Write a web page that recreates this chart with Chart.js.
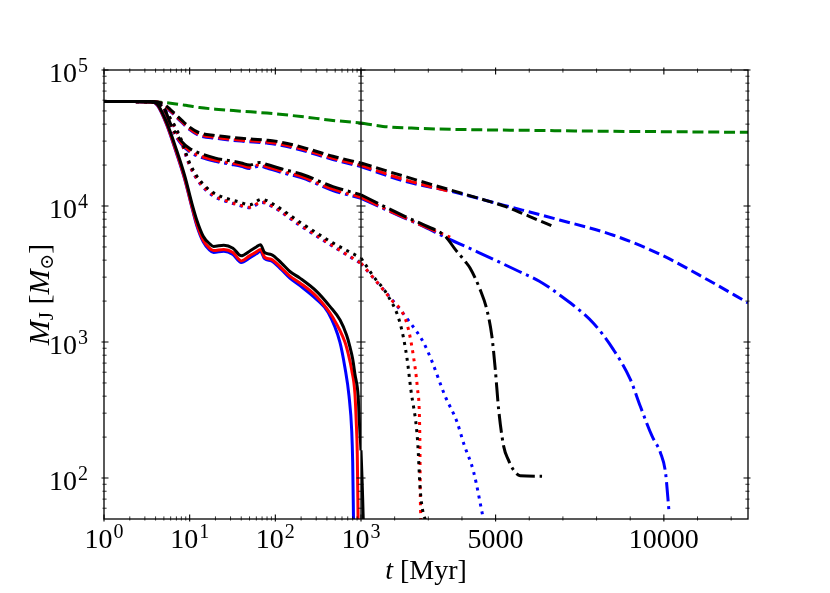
<!DOCTYPE html>
<html>
<head>
<meta charset="utf-8">
<title>M_J vs t</title>
<script src="https://cdn.jsdelivr.net/npm/chart.js@4.4.1/dist/chart.umd.min.js"></script>
<style>
  html, body { margin: 0; padding: 0; background: #fff; }
  canvas { display: block; }
</style>
</head>
<body>
<canvas id="massChart" width="830" height="593"></canvas>
<script>
// ---- data (t in Myr, M_J in solar masses) ----
const tGreen = [1, 3.5, 4.5, 6, 9, 13, 20, 40, 80, 200, 470, 1000, 1650, 2500, 4300, 6000, 8100, 10000, 12500];
const mGreen = [58700, 58700, 58000, 57000, 55000, 53000, 51500, 49800, 48200, 45500, 42600, 40800, 38500, 37400, 36400, 36000, 35500, 35200, 34800];

const tDashK = [1, 4, 5, 6, 8, 10, 13, 20, 40, 80, 100, 200, 470, 1000, 2300, 3800, 4500, 5300, 6000, 6750];
const mDashK = [58700, 58500, 56000, 51000, 43000, 38000, 34500, 33000, 31500, 30500, 30000, 27200, 23200, 20700, 16500, 12800, 11400, 9900, 8400, 7000];
const tDashR = [1, 4, 5, 6, 8, 10, 13, 20, 40, 80, 100, 200, 470, 1000, 2300, 3700];
const mDashR = [58700, 58500, 55500, 50000, 42000, 37000, 33500, 32000, 30500, 29500, 29000, 26300, 22400, 19900, 15600, 12700];
const tDashB = [1, 4, 5, 6, 8, 10, 13, 20, 40, 80, 100, 200, 470, 1000, 2300, 3800, 5200, 6900, 8500, 9900, 11300, 12500];
const mDashB = [58700, 58500, 55000, 49500, 41500, 36500, 33000, 31500, 30000, 29000, 28500, 25800, 22000, 19500, 15200, 12600, 10200, 7900, 6100, 4400, 2870, 1940];

const tDashDotK = [1, 4, 5, 6, 8, 10, 13, 20, 30, 40, 50, 66, 80, 120, 200, 470, 1000, 1700, 2300, 2900, 3500, 3800, 4100, 4240, 4540, 4740, 4890, 4990, 5090, 5240, 5380, 5530, 5730, 6380];
const mDashDotK = [58700, 58000, 53000, 40000, 30000, 26500, 24500, 22500, 21500, 20700, 20000, 20900, 20200, 18700, 17200, 13900, 12100, 9900, 8400, 7200, 6000, 4800, 3900, 3500, 2430, 1730, 1100, 630, 320, 171, 136, 115, 104, 103];
const tDashDotR = [1, 4, 5, 6, 8, 10, 13, 20, 30, 40, 50, 66, 80, 120, 200, 470, 1000, 1700, 2300, 2900, 3650];
const mDashDotR = [58700, 58000, 52500, 39000, 29000, 25500, 23500, 21700, 20700, 20000, 19300, 20100, 19400, 18000, 16500, 13300, 11600, 9600, 8200, 7050, 5900];
const tDashDotB = [1, 4, 5, 6, 8, 10, 13, 20, 30, 40, 50, 66, 80, 120, 200, 470, 1000, 1700, 2300, 2900, 3500, 4500, 5700, 6300, 6900, 7900, 8500, 9000, 9300, 9650, 9900, 10050, 10150];
const mDashDotB = [58700, 58000, 52000, 38500, 28500, 25000, 23000, 21300, 20300, 19600, 18900, 19700, 19000, 17600, 16200, 13000, 11400, 9500, 8150, 7000, 5900, 4550, 3300, 2800, 2220, 1380, 880, 534, 337, 203, 153, 109, 58];

const tDotK = [1, 4, 5.4, 7.7, 10, 13, 19, 27, 38, 50, 69, 95, 194, 470, 1000, 1370, 1770, 2160, 2360, 2480, 2680, 2760, 2850, 2950];
const mDotK = [58700, 58000, 48300, 32500, 20700, 15600, 12500, 11400, 10700, 10200, 11200, 10300, 7600, 5360, 4150, 3040, 2250, 1380, 780, 450, 190, 82, 55, 48];
const tDotR = [1, 4, 5.4, 7.7, 10, 13, 19, 27, 38, 50, 69, 95, 194, 470, 1000, 1400, 1860, 2360, 2560, 2680, 2750, 2760, 2780];
const mDotR = [58700, 58000, 47500, 31500, 20000, 15000, 12000, 10900, 10200, 9800, 10700, 9900, 7300, 5100, 3800, 2900, 2100, 1380, 780, 450, 190, 82, 48];
const tDotB = [1, 4, 5.4, 7.7, 10, 13, 19, 27, 38, 50, 69, 95, 194, 470, 1000, 1400, 1850, 2450, 2850, 3100, 3500, 3850, 4050, 4350, 4650];
const mDotB = [58700, 58000, 47300, 31300, 19800, 14800, 11800, 10800, 10100, 9700, 10600, 9800, 7200, 5050, 3780, 2900, 2150, 1400, 1000, 730, 400, 260, 180, 110, 48];

const tSolidK = [1, 3.5, 4.2, 5.4, 7, 8.8, 10.6, 12.1, 14.4, 17, 19, 25, 32, 40, 50, 60, 67, 75, 90, 118, 148, 194, 305, 433, 570, 680, 740, 800, 850, 927, 960, 1000, 1030, 1050, 1068];
const mSolidK = [58700, 58700, 56000, 41000, 26000, 16500, 10500, 7900, 6000, 5300, 5050, 5150, 4900, 4300, 4650, 5000, 5200, 4550, 4400, 3800, 3300, 2950, 2350, 1830, 1450, 1120, 930, 750, 580, 400, 250, 160, 100, 70, 48];
const tSolidR = [1, 3.5, 4.2, 5.4, 7, 8.8, 10.6, 12.1, 14.4, 17, 19, 25, 32, 40, 50, 60, 67, 75, 90, 118, 148, 194, 305, 474, 649, 709, 780, 849, 880, 905, 925];
const mSolidR = [58700, 58700, 55500, 40000, 25000, 15800, 10000, 7400, 5600, 4900, 4700, 4800, 4550, 3950, 4300, 4600, 4800, 4200, 4050, 3500, 3050, 2720, 2150, 1500, 1000, 820, 620, 420, 260, 150, 48];
const tSolidB = [1, 3.5, 4.2, 5.4, 7, 8.8, 10.6, 12.1, 14.4, 17, 19, 25, 32, 40, 50, 60, 67, 75, 90, 118, 148, 194, 305, 414, 567, 649, 725, 780, 800, 818];
const mSolidB = [58700, 58700, 55000, 39500, 24500, 15500, 9800, 7200, 5450, 4750, 4550, 4650, 4400, 3850, 4150, 4450, 4650, 4100, 3950, 3400, 2950, 2600, 2050, 1650, 1000, 650, 400, 220, 130, 48];

// ---- axes: log part up to 10^3, linear part beyond ----
const tSplit = 1000;
const tMax = 12500;
const yMin = 50;
const yMax = 100000;
const xLogTicks = [1, 10, 100, 1000];
const xLogExp = ['0', '1', '2', '3'];
const xLinTicks = [5000, 10000];
const xLinLabels = ['5000', '10000'];
const xLinMinor = [2000, 3000, 4000, 6000, 7000, 8000, 9000, 11000, 12000];
const yTicks = [100, 1000, 10000, 100000];
const yExp = ['2', '3', '4', '5'];

const SERIF = '"Liberation Serif", "DejaVu Serif", serif';
const LW = 3;
const DASHED = [11, 4.8];
const DASHDOT = [19, 4.8, 3, 4.8];
const DOTTED = [3, 5];

const curves = [
  { t: tSolidK, m: mSolidK, color: '#000000', dash: [], order: 1 },
  { t: tSolidR, m: mSolidR, color: '#ff0000', dash: [], order: 2 },
  { t: tSolidB, m: mSolidB, color: '#0000ff', dash: [], order: 3 },
  { t: tDotK, m: mDotK, color: '#000000', dash: DOTTED, order: 1 },
  { t: tDotR, m: mDotR, color: '#ff0000', dash: DOTTED, order: 2 },
  { t: tDotB, m: mDotB, color: '#0000ff', dash: DOTTED, order: 3 },
  { t: tDashDotK, m: mDashDotK, color: '#000000', dash: DASHDOT, order: 1 },
  { t: tDashDotR, m: mDashDotR, color: '#ff0000', dash: DASHDOT, order: 2 },
  { t: tDashDotB, m: mDashDotB, color: '#0000ff', dash: DASHDOT, order: 3 },
  { t: tDashK, m: mDashK, color: '#000000', dash: DASHED, order: 1 },
  { t: tDashR, m: mDashR, color: '#ff0000', dash: DASHED, order: 2 },
  { t: tDashB, m: mDashB, color: '#0000ff', dash: DASHED, order: 3 },
  { t: tGreen, m: mGreen, color: '#008000', dash: DASHED, order: 4 }
];

// split every curve at t = 10^3 so each half is drawn on its own x scale
const datasets = [];
curves.forEach(function (c) {
  const left = [], right = [];
  c.t.forEach(function (t, i) {
    if (t <= tSplit) left.push({ x: t, y: c.m[i] });
    if (t >= tSplit) right.push({ x: t, y: c.m[i] });
  });
  [[left, 'xl'], [right, 'xr']].forEach(function (part) {
    if (part[0].length < 2) return;
    datasets.push({
      data: part[0],
      xAxisID: part[1],
      yAxisID: 'y',
      borderColor: c.color,
      borderWidth: LW,
      borderDash: c.dash,
      borderCapStyle: 'butt',
      borderJoinStyle: 'round',
      cubicInterpolationMode: 'monotone',
      pointRadius: 0,
      fill: false,
      order: c.order
    });
  });
});

function drawPow(ctx, exp, x, base, align) {
  ctx.font = '28px ' + SERIF;
  const w1 = ctx.measureText('10').width;
  ctx.font = '20px ' + SERIF;
  const w2 = ctx.measureText(exp).width;
  const left = align === 'right' ? x - w1 - w2 - 1 : x - (w1 + w2 + 1) / 2;
  ctx.font = '28px ' + SERIF;
  ctx.fillText('10', left, base);
  ctx.font = '20px ' + SERIF;
  ctx.fillText(exp, left + w1 + 1, base - 10);
}

function drawParts(ctx, parts, cx, base) {
  let total = 0;
  parts.forEach(function (p) { ctx.font = p.font; p.w = ctx.measureText(p.text).width; total += p.w; });
  let x = cx - total / 2;
  parts.forEach(function (p) { ctx.font = p.font; ctx.fillText(p.text, x, base + (p.dy || 0)); x += p.w; });
}

// matplotlib-like frame: spines, in/out ticks on all sides, labels
const frame = {
  id: 'frame',
  afterDraw(chart) {
    const ctx = chart.ctx;
    const xl = chart.scales.xl, xr = chart.scales.xr, y = chart.scales.y;
    const a = chart.chartArea;
    const split = xl.getPixelForValue(tSplit);
    ctx.save();
    ctx.strokeStyle = '#000';
    ctx.fillStyle = '#000';

    ctx.lineWidth = 1.3;
    ctx.strokeRect(a.left, a.top, a.right - a.left, a.bottom - a.top);
    ctx.beginPath();
    ctx.moveTo(split, a.top);
    ctx.lineTo(split, a.bottom);
    ctx.stroke();

    function xTick(px, len, out) {
      ctx.moveTo(px, a.bottom + out); ctx.lineTo(px, a.bottom - len);
      ctx.moveTo(px, a.top - out); ctx.lineTo(px, a.top + len);
    }
    function yTick(py, len, out) {
      ctx.moveTo(a.left - out, py); ctx.lineTo(a.left + len, py);
      ctx.moveTo(split - len, py); ctx.lineTo(split + len, py);
      ctx.moveTo(a.right + out, py); ctx.lineTo(a.right - len, py);
    }

    // major ticks
    ctx.lineWidth = 1.1;
    ctx.beginPath();
    xLogTicks.forEach(function (v) { xTick(xl.getPixelForValue(v), 4.5, 2.5); });
    xLinTicks.forEach(function (v) { xTick(xr.getPixelForValue(v), 4.5, 2.5); });
    yTicks.forEach(function (v) { yTick(y.getPixelForValue(v), 4.5, 2.5); });
    ctx.stroke();

    // minor ticks
    ctx.lineWidth = 0.8;
    ctx.beginPath();
    for (let d = 1; d < 1000; d *= 10) {
      for (let k = 2; k <= 9; k++) xTick(xl.getPixelForValue(k * d), 2.6, 1.5);
    }
    xLinMinor.forEach(function (v) { xTick(xr.getPixelForValue(v), 2.6, 1.5); });
    for (let d = 10; d < yMax; d *= 10) {
      for (let k = 2; k <= 9; k++) {
        const v = k * d;
        if (v > yMin && v < yMax) yTick(y.getPixelForValue(v), 2.6, 1.5);
      }
    }
    ctx.stroke();

    // tick labels
    ctx.textAlign = 'left';
    ctx.textBaseline = 'alphabetic';
    const xBase = a.bottom + 29;
    xLogTicks.forEach(function (v, i) { drawPow(ctx, xLogExp[i], xl.getPixelForValue(v), xBase, 'center'); });
    ctx.font = '28px ' + SERIF;
    ctx.textAlign = 'center';
    xLinTicks.forEach(function (v, i) { ctx.fillText(xLinLabels[i], xr.getPixelForValue(v), xBase); });
    ctx.textAlign = 'left';
    yTicks.forEach(function (v, i) { drawPow(ctx, yExp[i], a.left - 16, y.getPixelForValue(v) + 12, 'right'); });

    // axis titles
    drawParts(ctx, [
      { text: 't', font: 'italic 28px ' + SERIF },
      { text: ' [Myr]', font: '28px ' + SERIF }
    ], (a.left + a.right) / 2, a.bottom + 60);

    ctx.save();
    ctx.translate(49, (a.top + a.bottom) / 2);
    ctx.rotate(-Math.PI / 2);
    drawParts(ctx, [
      { text: 'M', font: 'italic 30px ' + SERIF },
      { text: 'J', font: '21px ' + SERIF, dy: 4 },
      { text: ' [', font: '30px ' + SERIF },
      { text: 'M', font: 'italic 30px ' + SERIF },
      { text: '\u2299', font: '19px "DejaVu Serif", serif', dy: 4 },
      { text: ']', font: '30px ' + SERIF }
    ], 0, 0);
    ctx.restore();

    ctx.restore();
  }
};

const ctx = document.getElementById('massChart').getContext('2d');
new Chart(ctx, {
  type: 'line',
  data: { datasets: datasets },
  options: {
    responsive: false,
    animation: false,
    devicePixelRatio: 1,
    layout: { padding: { left: 104, right: 82, top: 70, bottom: 74 } },
    plugins: { legend: { display: false }, tooltip: { enabled: false } },
    scales: {
      xl: { type: 'logarithmic', position: 'bottom', min: 1, max: tSplit, stack: 'time', stackWeight: 257, weight: 0, display: false },
      xr: { type: 'linear', position: 'bottom', min: tSplit, max: tMax, stack: 'time', stackWeight: 387, weight: 1, display: false },
      y: { type: 'logarithmic', position: 'left', min: yMin, max: yMax, display: false }
    }
  },
  plugins: [frame]
});
</script>
</body>
</html>
